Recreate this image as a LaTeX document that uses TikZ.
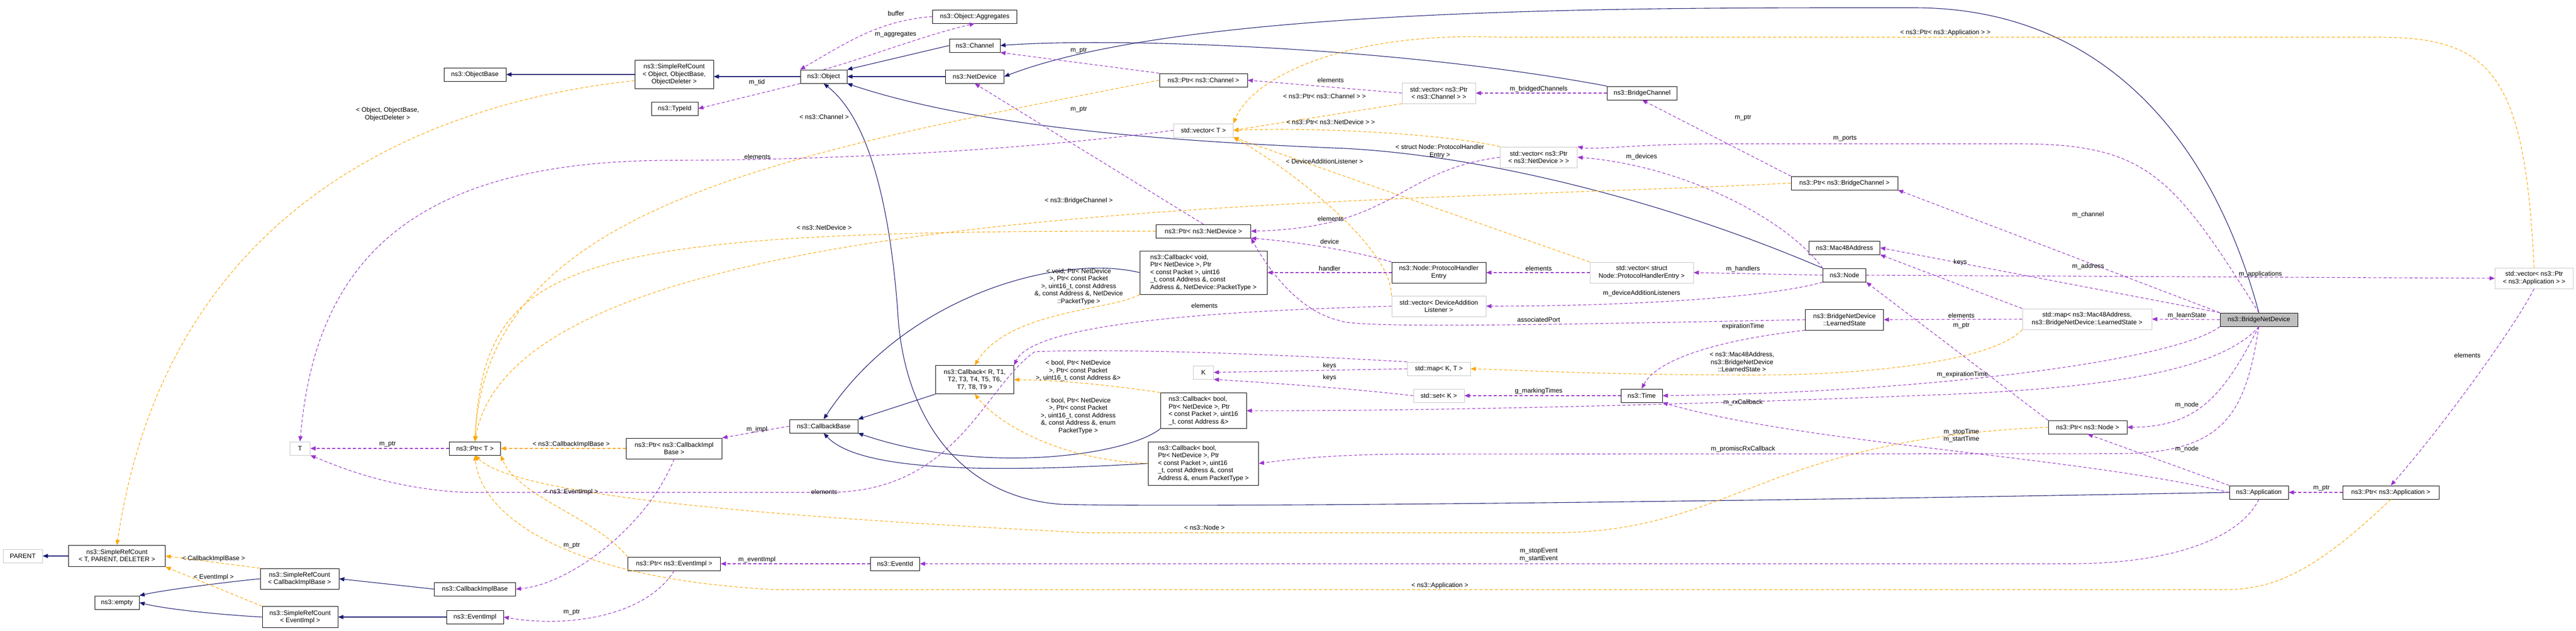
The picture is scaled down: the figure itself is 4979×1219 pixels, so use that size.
\documentclass[tikz,border=0pt]{standalone}
\usepackage{fontspec}
\setmainfont{Liberation Sans}
\usetikzlibrary{arrows.meta}
\definecolor{navy}{RGB}{25,25,112}
\definecolor{purp}{RGB}{154,50,205}
\definecolor{orng}{RGB}{255,165,0}
\newcommand\lbl{\fontsize{12.5}{14.5}\selectfont}
\tikzset{
 box/.style={draw=black, fill=white, line width=1pt, inner sep=1pt, align=center, font=\lbl, minimum height=26pt},
 gbox/.style={box, draw=gray!45},
 lbox/.style={box, align=left},
 tip/.style={-{Triangle[length=10pt,width=8pt]}},
 inh/.style={tip, draw=navy, line width=1.1pt},
 use/.style={tip, draw=purp, line width=1.1pt, dash pattern=on 6pt off 4pt},
 tpl/.style={tip, draw=orng, line width=1.1pt, dash pattern=on 6pt off 4pt},
 lab/.style={font=\lbl, inner sep=0pt, align=center}
}
\begin{document}
\begin{tikzpicture}[x=1pt,y=-1pt]
\path[use as bounding box, fill=white] (0,0) rectangle (4979,1219);
% nodes
\node[box, minimum width=163pt] (aggr) at (1884,32) {ns3::Object::Aggregates};
\node[box, minimum width=98pt] (channel) at (1884,88) {ns3::Channel};
\node[box, minimum width=120pt] (objbase) at (918,144) {ns3::ObjectBase};
\node[box, minimum width=152pt, minimum height=55pt] (srcobj) at (1303,144) {ns3::SimpleRefCount\\< Object, ObjectBase,\\ObjectDeleter >};
\node[box, minimum width=90pt] (object) at (1592,148) {ns3::Object};
\node[box, minimum width=113pt] (netdev) at (1884,148) {ns3::NetDevice};
\node[box, minimum width=170pt] (ptrch) at (2326,155) {ns3::Ptr< ns3::Channel >};
\node[gbox, minimum width=142pt, minimum height=40pt] (vecptrch) at (2781,180) {std::vector< ns3::Ptr\\< ns3::Channel > >};
\node[box, minimum width=135pt] (brch) at (3174,180) {ns3::BridgeChannel};
\node[box, minimum width=90pt] (typeid) at (1304,210) {ns3::TypeId};
\node[gbox, minimum width=115pt] (vecT) at (2326,252) {std::vector< T >};
\node[gbox, minimum width=149pt, minimum height=40pt] (vecptrnd) at (2974,304) {std::vector< ns3::Ptr\\< ns3::NetDevice > >};
\node[box, minimum width=206pt] (ptrbrch) at (3565,354) {ns3::Ptr< ns3::BridgeChannel >};
\node[box, minimum width=183pt] (ptrnd) at (2326,447) {ns3::Ptr< ns3::NetDevice >};
\node[box, minimum width=137pt] (mac) at (3565,479) {ns3::Mac48Address};
\node[lbox, minimum width=246pt, minimum height=84pt] (cbvoid) at (2326,527) {ns3::Callback< void,\\ Ptr< NetDevice >, Ptr\\< const Packet >, uint16\\\_t, const Address \&, const\\ Address \&, NetDevice::PacketType >};
\node[box, minimum width=182pt, minimum height=40pt] (phe) at (2781,527) {ns3::Node::ProtocolHandler\\Entry};
\node[gbox, minimum width=200pt, minimum height=40pt] (vecphe) at (3173,527) {std::vector< struct\\Node::ProtocolHandlerEntry >};
\node[box, minimum width=83pt] (node) at (3565,532) {ns3::Node};
\node[gbox, minimum width=151pt, minimum height=40pt] (vecapp) at (4898,538) {std::vector< ns3::Ptr\\< ns3::Application > >};
\node[gbox, minimum width=182pt, minimum height=40pt] (vecdal) at (2781,592) {std::vector< DeviceAddition\\Listener >};
\node[box, minimum width=151pt, minimum height=40pt] (ls) at (3565,618) {ns3::BridgeNetDevice\\::LearnedState};
\node[gbox, minimum width=250pt, minimum height=40pt] (mapm) at (4034,617) {std::map< ns3::Mac48Address,\\ns3::BridgeNetDevice::LearnedState >};
\node[box, minimum width=150pt, fill=gray!50] (bnd) at (4366,618) {ns3::BridgeNetDevice};
\node[gbox, minimum width=122pt] (mapKT) at (2781,713) {std::map< K, T >};
\node[gbox, minimum width=39pt] (K) at (2326,720) {K};
\node[box, minimum width=151pt, minimum height=55pt] (cbR) at (1884,734) {ns3::Callback< R, T1,\\T2, T3, T4, T5, T6,\\T7, T8, T9 >};
\node[gbox, minimum width=98pt] (set) at (2781,765) {std::set< K >};
\node[box, minimum width=80pt] (time) at (3173,765) {ns3::Time};
\node[lbox, minimum width=166pt, minimum height=69pt] (cbbool) at (2326,794) {ns3::Callback< bool,\\ Ptr< NetDevice >, Ptr\\< const Packet >, uint16\\ \_t, const Address \&>};
\node[box, minimum width=132pt] (cbbase) at (1592,824) {ns3::CallbackBase};
\node[box, minimum width=152pt] (ptrnode) at (4035,826) {ns3::Ptr< ns3::Node >};
\node[gbox, minimum width=39pt] (T) at (580,867) {T};
\node[box, minimum width=99pt] (ptrT) at (918,867) {ns3::Ptr< T >};
\node[box, minimum width=185pt, minimum height=40pt] (ptrcib) at (1303,867) {ns3::Ptr< ns3::CallbackImpl\\Base >};
\node[lbox, minimum width=213pt, minimum height=84pt] (cbboolE) at (2326,896) {ns3::Callback< bool,\\ Ptr< NetDevice >, Ptr\\< const Packet >, uint16\\\_t, const Address \&, const\\ Address \&, enum PacketType >};
\node[box, minimum width=114pt] (app) at (4366,952) {ns3::Application};
\node[box, minimum width=186pt] (ptrapp) at (4621,952) {ns3::Ptr< ns3::Application >};
\node[gbox, minimum width=76pt] (PARENT) at (44,1075) {PARENT};
\node[box, minimum width=187pt, minimum height=41pt] (srcTPD) at (226,1075) {ns3::SimpleRefCount\\< T, PARENT, DELETER >};
\node[box, minimum width=179pt] (ptrev) at (1303,1090) {ns3::Ptr< ns3::EventImpl >};
\node[box, minimum width=95pt] (eventid) at (1730,1090) {ns3::EventId};
\node[box, minimum width=152pt, minimum height=40pt] (srccib) at (579,1119) {ns3::SimpleRefCount\\< CallbackImplBase >};
\node[box, minimum width=157pt] (cib) at (918,1139) {ns3::CallbackImplBase};
\node[box, minimum width=86pt] (empty) at (226,1165) {ns3::empty};
\node[box, minimum width=146pt, minimum height=41pt] (srcev) at (580,1193) {ns3::SimpleRefCount\\< EventImpl >};
\node[box, minimum width=110pt] (evimpl) at (918,1193) {ns3::EventImpl};
% inheritance
\draw[inh] (srcobj.west) -- (objbase.east);
\draw[inh] (object.west) -- (srcobj.east|-object.west);
\draw[inh] (channel.west) -- (object.north east);
\draw[inh] (netdev.west) -- (object.east);
\draw[inh] (brch.north west) .. controls (2700,90) and (2150,72) .. (channel.east);
\draw[inh] (bnd.north) .. controls (4270,250) and (4050,15) .. (3700,15) .. controls (3200,15) and (2300,10) .. (netdev.east);
\draw[inh] (node.north west) .. controls (3200,380) and (2850,300) .. (2600,287) .. controls (2300,275) and (1900,250) .. (object.south east);
\draw[inh] (app.west) .. controls (3000,976) and (2200,980) .. (2050,975) .. controls (1850,960) and (1745,800) .. (1735,600) .. controls (1720,400) and (1680,230) .. (object.south);
\draw[inh] (cbR.south west) -- (cbbase.north east);
\draw[inh] (cbbool.south west) .. controls (2180,880) and (1900,920) .. (cbbase.south east);
\draw[inh] (cbboolE.west) .. controls (1900,915) and (1660,910) .. (cbbase.south);
\draw[inh] (cbvoid.west) .. controls (2050,490) and (1750,570) .. (cbbase.north);
\draw[inh] (srccib.west) .. controls (450,1124) and (320,1140) .. (empty.north east);
\draw[inh] (srcev.west) .. controls (450,1190) and (330,1180) .. (empty.east);
\draw[inh] (cib.west) -- (srccib.east);
\draw[inh] (evimpl.west) -- (srcev.east);
\draw[inh] (srcTPD.west) -- (PARENT.east);
% templates
\draw[tpl] (srcobj.west) ++(0,12) .. controls (900,190) and (330,350) .. (srcTPD.north);
\draw[tpl] (srccib.north west) -- (srcTPD.east);
\draw[tpl] (srcev.north west) -- (srcTPD.south east);
\draw[tpl] (ptrch.west) .. controls (1500,300) and (940,400) .. (ptrT.north);
\draw[tpl] (ptrbrch.west) .. controls (2600,398) and (1000,380) .. (ptrT.north);
\draw[tpl] (ptrnd.west) .. controls (1100,445) and (935,500) .. (ptrT.north);
\draw[tpl] (ptrcib.west) -- (ptrT.east);
\draw[tpl] (ptrev.north west) .. controls (1150,1000) and (1000,960) .. (ptrT.south east);
\draw[tpl] (ptrnode.west) .. controls (3400,850) and (3350,1030) .. (3000,1030) -- (2100,1030) .. controls (1500,1000) and (1000,960) .. (ptrT.south);
\draw[tpl] (ptrapp.south) .. controls (4480,1100) and (4400,1140) .. (4300,1140) -- (1500,1140) .. controls (1100,1120) and (930,1000) .. (ptrT.south);
\draw[tpl] (vecptrch.south west) -- (vecT.east);
\draw[tpl] (vecptrnd.north west) .. controls (2800,260) and (2550,245) .. (vecT.east);
\draw[tpl] (vecphe.north west) -- (vecT.south east);
\draw[tpl] (vecdal.north west) .. controls (2690,480) and (2500,330) .. (vecT.south east);
\draw[tpl] (vecapp.north) .. controls (4880,150) and (4820,72) .. (4600,72) -- (2900,72) .. controls (2600,60) and (2420,150) .. (vecT.north east);
\draw[tpl] (mapm.south west) .. controls (3850,700) and (3600,725) .. (3400,725) .. controls (3100,725) and (2950,716) .. (mapKT.east);
\draw[tpl] (cbbool.north west) .. controls (2150,745) and (2050,735) .. (cbR.east);
\draw[tpl] (cbboolE.west) .. controls (2050,890) and (1930,820) .. (cbR.south);
\draw[tpl] (cbvoid.south west) .. controls (2150,600) and (1950,600) .. (cbR.north);
% uses
\draw[use] (object.north) .. controls (1680,110) and (1780,70) .. (aggr.south);
\draw[use] (aggr.west) .. controls (1700,40) and (1640,80) .. (object.north west);
\draw[use] (object.south west) -- (typeid.east);
\draw[use] (ptrch.north west) -- (channel.south east);
\draw[use] (ptrnd.north) -- (netdev.south);
\draw[use] (ptrT.west) -- (T.east);
\draw[use] (vecT.west) .. controls (1900,300) and (1500,310) .. (1300,310) .. controls (800,310) and (610,500) .. (T.north);
\draw[use] (ptrcib.south) .. controls (1250,1020) and (1100,1130) .. (cib.east);
\draw[use] (ptrev.south) .. controls (1250,1190) and (1100,1215) .. (evimpl.east);
\draw[use] (cbbase.west) -- (ptrcib.north east);
\draw[use] (eventid.west) -- (ptrev.east);
\draw[use] (vecptrch.west) -- (ptrch.east);
\draw[use] (brch.west) -- (vecptrch.east);
\draw[use] (ptrbrch.north west) -- (brch.south);
\draw[use] (vecptrnd.west) .. controls (2700,330) and (2700,440) .. (ptrnd.east);
\draw[use] (node.north west) .. controls (3450,420) and (3250,320) .. (vecptrnd.east);
\draw[use] (bnd.north) .. controls (4200,340) and (4150,278) .. (3900,278) -- (3300,278) .. controls (3150,280) and (3080,290) .. (vecptrnd.north east);
\draw[use] (phe.north west) .. controls (2600,480) and (2480,465) .. (ptrnd.south east);
\draw[use] (phe.west) -- (cbvoid.east);
\draw[use] (vecphe.west) -- (phe.east);
\draw[use] (node.west) -- (vecphe.east);
\draw[use] (vecdal.west) .. controls (2400,600) and (2000,620) .. (cbR.north east);
\draw[use] (node.south west) .. controls (3400,580) and (3100,592) .. (vecdal.east);
\draw[use] (ls.west) .. controls (3000,628) and (2620,635) .. (2590,620) .. controls (2500,600) and (2440,500) .. (ptrnd.south east);
\draw[use] (ls.south west) .. controls (3300,660) and (3200,700) .. (time.north);
\draw[use] (mapKT.north west) .. controls (2550,690) and (2200,672) .. (2000,680) .. controls (1900,750) and (1850,952) .. (1600,952) -- (900,952) .. controls (750,945) and (650,900) .. (T.south east);
\draw[use] (mapKT.west) -- (K.east);
\draw[use] (set.west) .. controls (2600,750) and (2450,740) .. (K.south east);
\draw[use] (time.west) -- (set.east);
\draw[use] (bnd.south west) .. controls (4200,700) and (3700,760) .. (time.east);
\draw[use] (app.west) .. controls (4000,880) and (3500,860) .. (time.south east);
\draw[use] (bnd.south) .. controls (4280,730) and (4000,755) .. (3700,765) .. controls (3200,785) and (2700,795) .. (cbbool.east);
\draw[use] (bnd.south) .. controls (4340,800) and (4300,875) .. (4100,877) -- (2700,878) .. controls (2550,880) and (2480,890) .. (cbboolE.east);
\draw[use] (bnd.south) .. controls (4300,760) and (4250,826) .. (ptrnode.east);
\draw[use] (app.north west) -- (ptrnode.south);
\draw[use] (ptrnode.north west) -- (node.south east);
\draw[use] (app.south) .. controls (4330,1040) and (4200,1090) .. (4000,1090) -- (eventid.east);
\draw[use] (ptrapp.west) -- (app.east);
\draw[use] (vecapp.south) .. controls (4850,650) and (4700,850) .. (ptrapp.north);
\draw[use] (node.east) -- (vecapp.west);
\draw[use] (bnd.north west) -- (ptrbrch.south east);
\draw[use] (bnd.north west) -- (mac.east);
\draw[use] (mapm.north west) -- (mac.south east);
\draw[use] (mapm.west) -- (ls.east);
\draw[use] (bnd.west) -- (mapm.east);
% labels
\node[lab] (l01) at (749,221) {< Object, ObjectBase,\\ObjectDeleter >};
\node[lab] (l02) at (749,859) {m\_ptr};
\node[lab] (l03) at (1104,859) {< ns3::CallbackImplBase >};
\node[lab] (l04) at (1104,951) {< ns3::EventImpl >};
\node[lab] (l05) at (1105,1055) {m\_ptr};
\node[lab] (l06) at (1105,1184) {m\_ptr};
\node[lab] (l07) at (413,1080) {< CallbackImplBase >};
\node[lab] (l08) at (413,1116) {< EventImpl >};
\node[lab] (l09) at (1732,26) {buffer};
\node[lab] (l10) at (1731,67) {m\_aggregates};
\node[lab] (l11) at (1463,159) {m\_tid};
\node[lab] (l12) at (2085,98) {m\_ptr};
\node[lab] (l13) at (2085,212) {m\_ptr};
\node[lab] (l14) at (1593,226) {< ns3::Channel >};
\node[lab] (l15) at (1464,303) {elements};
\node[lab] (l16) at (2085,388) {< ns3::BridgeChannel >};
\node[lab] (l17) at (1593,440) {< ns3::NetDevice >};
\node[lab] (l18) at (2085,554) {< void, Ptr< NetDevice\\>, Ptr< const Packet\\>, uint16\_t, const Address\\\&, const Address \&, NetDevice\\::PacketType >};
\node[lab] (l19) at (2328,591) {elements};
\node[lab] (l20) at (1463,830) {m\_impl};
\node[lab] (l21) at (2084,717) {< bool, Ptr< NetDevice\\>, Ptr< const Packet\\>, uint16\_t, const Address \&>};
\node[lab] (l22) at (2084,804) {< bool, Ptr< NetDevice\\>, Ptr< const Packet\\>, uint16\_t, const Address\\\&, const Address \&, enum\\PacketType >};
\node[lab] (l23) at (1593,951) {elements};
\node[lab] (l24) at (2328,1020) {< ns3::Node >};
\node[lab] (l25) at (1463,1082) {m\_eventImpl};
\node[lab] (l26) at (3760,63) {< ns3::Ptr< ns3::Application > >};
\node[lab] (l27) at (2572,155) {elements};
\node[lab] (l28) at (2560,186) {< ns3::Ptr< ns3::Channel > >};
\node[lab] (l29) at (2974,172) {m\_bridgedChannels};
\node[lab] (l30) at (2572,236) {< ns3::Ptr< ns3::NetDevice > >};
\node[lab] (l31) at (3369,228) {m\_ptr};
\node[lab] (l32) at (3566,268) {m\_ports};
\node[lab] (l33) at (2783,293) {< struct Node::ProtocolHandler\\Entry >};
\node[lab] (l34) at (3173,303) {m\_devices};
\node[lab] (l35) at (2560,312) {< DeviceAdditionListener >};
\node[lab] (l36) at (2572,423) {elements};
\node[lab] (l37) at (2570,467) {device};
\node[lab] (l38) at (2570,519) {handler};
\node[lab] (l39) at (2974,519) {elements};
\node[lab] (l40) at (3369,520) {m\_handlers};
\node[lab] (l41) at (3173,567) {m\_deviceAdditionListeners};
\node[lab] (l42) at (2974,618) {associatedPort};
\node[lab] (l43) at (3369,631) {expirationTime};
\node[lab] (l44) at (3367,700) {< ns3::Mac48Address,\\ns3::BridgeNetDevice\\::LearnedState >};
\node[lab] (l45) at (2570,707) {keys};
\node[lab] (l46) at (2570,730) {keys};
\node[lab] (l47) at (2974,756) {g\_markingTimes};
\node[lab] (l48) at (3369,778) {m\_rxCallback};
\node[lab] (l49) at (3369,868) {m\_promiscRxCallback};
\node[lab] (l50) at (2974,1073) {m\_stopEvent\\m\_startEvent};
\node[lab] (l51) at (2783,1132) {< ns3::Application >};
\node[lab] (l52) at (4036,415) {m\_channel};
\node[lab] (l53) at (3789,507) {keys};
\node[lab] (l54) at (4036,515) {m\_address};
\node[lab] (l55) at (4369,530) {m\_applications};
\node[lab] (l56) at (3791,610) {elements};
\node[lab] (l57) at (4227,610) {m\_learnState};
\node[lab] (l58) at (3791,630) {m\_ptr};
\node[lab] (l59) at (3793,724) {m\_expirationTime};
\node[lab] (l60) at (4227,783) {m\_node};
\node[lab] (l61) at (3791,842) {m\_stopTime\\m\_startTime};
\node[lab] (l62) at (4227,868) {m\_node};
\node[lab] (l63) at (4487,944) {m\_ptr};
\node[lab] (l64) at (4769,687) {elements};
\end{tikzpicture}
\end{document}
